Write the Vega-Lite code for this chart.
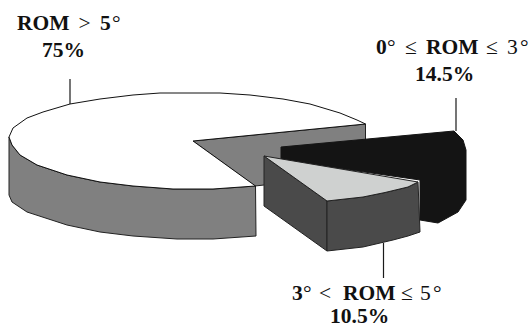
{
"$schema":"https://vega.github.io/schema/vega-lite/v6.json",
"width":531,"height":328,"padding":0,"autosize":"none","background":"white",
"view":{"stroke":null},
"datasets":{
"inner":[{"x":193,"y":141},{"x":365.5,"y":124},{"x":365.5,"y":148},{"x":264,"y":185},{"x":255,"y":186},{"x":193,"y":141}],
"wall":[{"x":255.5,"y":186},{"x":213,"y":189},{"x":173,"y":189},{"x":133,"y":186},{"x":100,"y":182},{"x":67,"y":175},{"x":37,"y":165},{"x":20,"y":155},{"x":12,"y":145},{"x":9,"y":137},{"x":9,"y":195},{"x":12,"y":202},{"x":27,"y":212},{"x":67,"y":225},{"x":100,"y":232},{"x":133,"y":236},{"x":177,"y":239},{"x":213,"y":239},{"x":256,"y":236},{"x":255.5,"y":186}],
"top":[{"x":193,"y":141},{"x":255.5,"y":186},{"x":213,"y":189},{"x":173,"y":189},{"x":133,"y":186},{"x":100,"y":182},{"x":67,"y":175},{"x":37,"y":165},{"x":20,"y":155},{"x":12,"y":145},{"x":9,"y":137},{"x":13,"y":128},{"x":27,"y":118},{"x":43,"y":112},{"x":70,"y":104},{"x":100,"y":99},{"x":133,"y":95},{"x":160,"y":93},{"x":220,"y":93},{"x":250,"y":95},{"x":283,"y":99},{"x":310,"y":104},{"x":340,"y":113},{"x":357,"y":120},{"x":365.5,"y":124},{"x":193,"y":141}],
"black":[{"x":281,"y":147},{"x":454,"y":131},{"x":463,"y":140},{"x":466,"y":150},{"x":466,"y":200},{"x":458,"y":212},{"x":438,"y":223},{"x":420,"y":220},{"x":420,"y":180},{"x":281,"y":160},{"x":281,"y":147}],
"leftface":[{"x":264,"y":156},{"x":327,"y":201},{"x":327,"y":251},{"x":264,"y":206},{"x":264,"y":156}],
"frontface":[{"x":327,"y":201},{"x":363,"y":197},{"x":385,"y":192.5},{"x":408,"y":187},{"x":418,"y":182},{"x":420,"y":232},{"x":408,"y":236},{"x":393,"y":240},{"x":363,"y":247},{"x":327,"y":251},{"x":327,"y":201}],
"light":[{"x":264,"y":156},{"x":418,"y":182},{"x":408,"y":187},{"x":385,"y":192.5},{"x":363,"y":197},{"x":327,"y":201},{"x":264,"y":156}],
"leaders":[{"k":"a","x":70,"y":79},{"k":"a","x":70,"y":104},{"k":"b","x":456,"y":98},{"k":"b","x":456,"y":131},{"k":"c","x":383.5,"y":243},{"k":"c","x":383.5,"y":278}],
"bold":[{"t":"ROM","x":17,"y":30},{"t":"5","x":100,"y":30},{"t":"75%","x":42,"y":57},{"t":"0","x":376,"y":54},{"t":"ROM","x":426,"y":54},{"t":"14.5%","x":415,"y":81},{"t":"3","x":292,"y":300},{"t":"ROM","x":343,"y":300},{"t":"10.5%","x":330,"y":323}],
"normal":[{"t":">","x":78.5,"y":30},{"t":"°","x":112,"y":30},{"t":"°","x":387,"y":54},{"t":"≤","x":405,"y":54},{"t":"≤","x":486,"y":54},{"t":"3","x":507,"y":54},{"t":"°","x":520,"y":54},{"t":"°","x":303,"y":300},{"t":"<","x":319,"y":300},{"t":"≤","x":401,"y":300},{"t":"5","x":420,"y":300},{"t":"°","x":433,"y":300}]
},
"encoding":{
"x":{"field":"x","type":"quantitative","scale":{"domain":[0,531],"range":[0,531],"nice":false,"zero":false},"axis":null},
"y":{"field":"y","type":"quantitative","scale":{"domain":[0,328],"range":[0,328],"nice":false,"zero":false},"axis":null}
},
"layer":[
{"data":{"name":"leaders"},"mark":{"type":"line","stroke":"#1a1a1a","strokeWidth":1.2},"encoding":{"detail":{"field":"k"},"order":{"field":"y"}}},
{"data":{"name":"inner"},"mark":{"type":"line","fill":"#808080","stroke":"#222","strokeWidth":1,"order":false}},
{"data":{"name":"wall"},"mark":{"type":"line","fill":"#808080","stroke":"#222","strokeWidth":1,"order":false}},
{"data":{"name":"top"},"mark":{"type":"line","fill":"#ffffff","stroke":"#111","strokeWidth":1,"order":false}},
{"data":{"name":"black"},"mark":{"type":"line","fill":"#141414","stroke":"#141414","strokeWidth":1,"order":false}},
{"data":{"name":"leftface"},"mark":{"type":"line","fill":"#4a4a4a","stroke":"#222","strokeWidth":1,"order":false}},
{"data":{"name":"frontface"},"mark":{"type":"line","fill":"#4a4a4a","stroke":"#222","strokeWidth":1,"order":false}},
{"data":{"name":"light"},"mark":{"type":"line","fill":"#cfd1d0","stroke":"#222","strokeWidth":1,"order":false}},
{"data":{"name":"bold"},"mark":{"type":"text","font":"Liberation Serif","fontWeight":"bold","fontSize":21.5,"color":"#111","align":"left","baseline":"alphabetic"},"encoding":{"text":{"field":"t"}}},
{"data":{"name":"normal"},"mark":{"type":"text","font":"Liberation Serif","fontWeight":"normal","fontSize":21.5,"color":"#111","align":"left","baseline":"alphabetic"},"encoding":{"text":{"field":"t"}}}
]
}
